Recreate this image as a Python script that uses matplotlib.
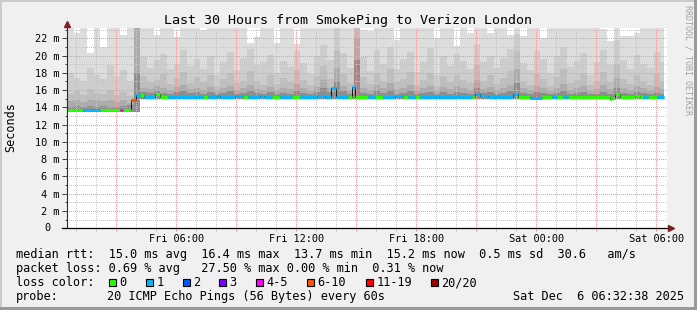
import datetime as dt
import numpy as np
import matplotlib
matplotlib.use('Agg')
import matplotlib.pyplot as plt
import matplotlib.dates as mdates
from matplotlib.patches import Rectangle
from matplotlib.ticker import MultipleLocator, FuncFormatter

W, H = 697, 310

START = dt.datetime(2025, 12, 5, 0, 32, 38)
SPAN_HOURS = 30
DATA_END_H = 29.85

# smoke: 20 minute bins, upper edge of each grey band (ms)
smoke_low = [13.5] * 11 + [15.0] * 79
smoke_top1 = [
    23.4, 22.6, 23.4, 20.3, 23.4, 21.0, 23.4, 23.4, 22.4, 23.4,
    23.4, 23.4, 23.4, 22.4, 23.4, 23.4, 22.2, 23.4, 23.4, 23.4,
    23.0, 23.4, 23.4, 23.4, 23.4, 23.4, 23.4, 21.5, 22.2, 23.4,
    23.4, 21.5, 23.4, 23.4, 21.3, 23.4, 23.4, 23.4, 23.4, 23.4,
    23.4, 23.4, 23.4, 23.4, 23.0, 22.8, 23.4, 23.4, 23.4, 21.8,
    23.4, 23.4, 23.4, 23.4, 23.4, 22.0, 23.4, 23.4, 21.1, 23.4,
    22.6, 23.4, 23.4, 22.6, 23.4, 23.4, 22.4, 23.4, 22.3, 23.4,
    23.4, 22.0, 23.4, 23.4, 23.4, 23.4, 23.4, 23.4, 23.4, 23.4,
    23.1, 21.7, 23.4, 22.3, 22.3, 22.6, 23.4, 23.4, 23.4, 23.4]
smoke_top2 = [
    18.0, 17.4, 17.0, 18.6, 17.8, 17.3, 18.9, 17.6, 18.3, 17.1,
    23.4, 19.8, 18.6, 19.5, 20.2, 18.4, 19.0, 20.6, 18.8, 19.6,
    18.5, 19.9, 17.8, 19.2, 20.4, 18.3, 19.7, 20.8, 18.9, 19.3,
    20.1, 18.0, 19.4, 18.7, 20.5, 19.1, 17.9, 20.0, 21.2, 19.5,
    23.4, 20.3, 18.6, 23.4, 19.8, 18.2, 20.7, 19.0, 21.0, 18.5,
    19.6, 20.4, 18.1, 19.3, 20.9, 17.7, 19.9, 18.8, 20.2, 19.4,
    18.4, 21.3, 19.2, 20.0, 18.6, 19.7, 20.8, 22.5, 19.1, 18.3,
    20.5, 19.6, 18.0, 19.9, 21.0, 18.7, 19.4, 20.3, 17.8, 19.2,
    20.6, 18.9, 21.8, 19.5, 18.4, 20.1, 19.0, 18.6, 20.4, 19.3]
smoke_top3 = [
    15.6, 15.9, 15.4, 16.1, 15.7, 15.5, 16.0, 15.4, 15.8, 15.3,
    23.4, 17.6, 16.9, 17.2, 17.9, 16.7, 17.4, 18.1, 16.8, 17.5,
    16.9, 17.7, 16.5, 17.3, 18.0, 16.8, 17.1, 18.2, 17.0, 16.6,
    17.8, 16.7, 17.4, 16.9, 18.3, 17.2, 16.6, 17.6, 18.8, 17.3,
    20.6, 17.9, 16.8, 23.4, 17.5, 16.7, 18.0, 17.1, 18.4, 16.9,
    17.3, 18.1, 16.6, 17.2, 18.0, 16.5, 17.6, 16.9, 17.8, 17.2,
    16.8, 18.9, 17.0, 17.7, 16.7, 17.4, 18.2, 20.5, 17.1, 16.6,
    17.9, 17.3, 16.5, 17.5, 18.4, 16.8, 17.2, 17.9, 16.6, 17.0,
    18.1, 16.9, 19.0, 17.3, 16.7, 17.8, 17.0, 16.6, 17.9, 17.1]
smoke_top4 = [
    14.7, 14.9, 14.6, 15.0, 14.8, 14.7, 14.9, 14.6, 14.8, 14.5,
    23.4, 16.3, 16.1, 16.5, 16.2, 16.0, 16.4, 16.6, 16.1, 16.3,
    16.0, 16.4, 15.9, 16.2, 16.5, 16.0, 16.3, 16.6, 16.1, 16.0,
    16.4, 16.0, 16.3, 16.1, 16.7, 16.2, 15.9, 16.4, 17.2, 16.3,
    18.6, 16.5, 16.0, 22.0, 16.3, 16.0, 16.6, 16.2, 16.8, 16.1,
    16.3, 16.6, 15.9, 16.2, 16.5, 15.9, 16.4, 16.1, 16.5, 16.2,
    16.0, 17.2, 16.1, 16.4, 16.0, 16.3, 16.6, 18.4, 16.2, 16.0,
    16.5, 16.2, 15.9, 16.3, 16.7, 16.0, 16.2, 16.5, 15.9, 16.1,
    16.6, 16.1, 17.4, 16.3, 16.0, 16.5, 16.2, 15.9, 16.4, 16.1]
smoke_top5 = [
    14.1, 14.2, 14.0, 14.2, 14.1, 14.2, 14.0, 14.1, 14.2, 14.3,
    18.0, 15.8, 15.7, 15.9, 15.7, 15.6, 15.8, 15.9, 15.7, 15.8,
    15.6, 15.8, 15.6, 15.7, 15.9, 15.6, 15.7, 15.9, 15.7, 15.6,
    15.8, 15.6, 15.7, 15.6, 15.9, 15.7, 15.6, 15.8, 16.3, 15.8,
    17.0, 15.9, 15.6, 19.5, 15.7, 15.6, 15.9, 15.7, 16.0, 15.6,
    15.7, 15.9, 15.6, 15.7, 15.8, 15.5, 15.8, 15.6, 15.8, 15.7,
    15.6, 16.2, 15.7, 15.8, 15.6, 15.7, 15.9, 16.8, 15.7, 15.6,
    15.8, 15.7, 15.5, 15.7, 15.9, 15.6, 15.7, 15.8, 15.5, 15.6,
    15.8, 15.6, 16.3, 15.7, 15.6, 15.8, 15.7, 15.5, 15.7, 15.6]
smoke_greys = ['#dddddd', '#cdcdcd', '#bebebe', '#acacac', '#8e8e8e']

# median rtt: start of each step (hours since start), value (ms), loss class
med_start_h = [
    0.00, 0.80, 1.65, 2.65, 2.80, 3.20, 3.45, 3.65, 3.85, 4.40,
    4.65, 5.05, 6.80, 7.05, 7.50, 7.65, 8.40, 8.80, 9.05, 9.65,
    9.85, 10.25, 10.65, 11.25, 11.65, 12.50, 12.90, 13.20, 13.45, 14.05,
    14.25, 14.40, 15.05, 15.40, 15.80, 16.40, 16.80, 17.05, 17.40, 17.65,
    20.25, 20.40, 20.65, 21.05, 21.40, 22.30, 22.55, 23.15, 23.75, 24.25,
    24.50, 24.80, 25.05, 27.15, 27.25, 27.40, 27.65, 28.40, 28.65, 28.80,
    29.05, 29.50]
med_ms = [
    13.7, 13.7, 13.7, 13.7, 13.7, 14.9, 15.4, 15.4, 15.15, 15.6,
    15.15, 15.15, 15.15, 15.15, 15.3, 15.15, 15.3, 15.15, 15.15, 15.3,
    15.15, 15.15, 15.15, 15.15, 15.15, 15.35, 15.2, 16.2, 15.15, 15.15,
    16.4, 15.15, 15.15, 15.15, 15.15, 15.3, 15.15, 15.15, 15.15, 15.2,
    15.2, 15.6, 15.3, 15.15, 15.2, 15.5, 15.15, 15.1, 15.2, 15.2,
    15.2, 15.2, 15.2, 15.0, 15.1, 15.5, 15.25, 15.35, 15.25, 15.25,
    15.25, 15.2]
med_loss = [
    0, 1, 0, 4, 0, 5, 1, 0, 1, 0,
    0, 1, 0, 1, 1, 1, 1, 0, 1, 1,
    1, 0, 1, 0, 1, 1, 1, 1, 1, 0,
    1, 0, 1, 0, 1, 1, 0, 1, 0, 1,
    0, 1, 1, 1, 1, 1, 0, 1, 0, 1,
    0, 1, 0, 0, 0, 0, 0, 0, 0, 1,
    0, 1]

loss_labels = ['0', '1', '2', '3', '4-5', '6-10', '11-19', '20/20']
loss_colors = ['#26ff00', '#00b8ff', '#0059ff', '#7e00ff',
               '#ff00ff', '#ff5500', '#ff0000', '#a10000']

title = 'Last 30 Hours from SmokePing to Verizon London'
legend_rtt = ('median rtt:  15.0 ms avg  16.4 ms max  13.7 ms min  '
              '15.2 ms now  0.5 ms sd  30.6   am/s')
legend_loss = 'packet loss: 0.69 % avg   27.50 % max 0.00 % min  0.31 % now'
probe_text = '20 ICMP Echo Pings (56 Bytes) every 60s'
stamp_text = 'Sat Dec  6 06:32:38 2025'


def fx(x):
    return x / W


def fy(y):
    return 1 - y / H


def tnum(hours):
    return mdates.date2num(START) + np.asarray(hours, dtype=float) / 24.0


def time_label(v, pos):
    d = mdates.num2date(round(v * 1440) / 1440)
    return d.strftime('%a %H:%M') if d.hour % 6 == 0 else ''


def draw_graph(ax):
    edges = tnum(np.append(np.arange(len(smoke_top1)) / 3.0, DATA_END_H))
    tops = [smoke_top1, smoke_top2, smoke_top3, smoke_top4, smoke_top5]
    for top, c in zip(tops, smoke_greys):
        ax.stairs(top, edges, baseline=smoke_low, fill=True, color=c,
                  lw=0, zorder=1)

    med_edges = tnum(med_start_h + [DATA_END_H])
    ax.stairs(med_ms, med_edges, baseline=None, color='black', lw=0.6, zorder=4)
    ax.hlines(med_ms, med_edges[:-1], med_edges[1:],
              colors=[loss_colors[k] for k in med_loss],
              lw=2.1, zorder=5, capstyle='butt')


def style_axes(ax):
    ax.set_facecolor('white')
    ax.set_xlim(tnum(0), tnum(SPAN_HOURS))
    ax.set_ylim(0, 23.19)

    ax.yaxis.set_major_locator(MultipleLocator(2))
    ax.yaxis.set_minor_locator(MultipleLocator(1))
    ax.yaxis.set_major_formatter(
        FuncFormatter(lambda v, p: '' if v == 0 else f'{v:.0f} m'))
    ax.text(-(67 - 50.5) / 600, 0, '0', transform=ax.get_yaxis_transform(),
            ha='right', va='center', fontsize=7.4)

    ax.xaxis.set_major_locator(mdates.HourLocator(byhour=range(0, 24, 3)))
    ax.xaxis.set_minor_locator(mdates.HourLocator())
    ax.xaxis.set_major_formatter(FuncFormatter(time_label))

    # dotted grid, light like rrdtool's translucent grid colours
    dots = (0, (1, 2))
    ax.grid(which='major', color='#ee9a9a', lw=0.72, ls=dots, antialiased=False)
    ax.grid(which='minor', color='#c4c4c4', lw=0.72, ls=dots, antialiased=False)
    ax.set_axisbelow(False)

    ax.tick_params(axis='y', which='major', length=3.6, width=0.72,
                   color='#444444', pad=1.8, labelsize=7.4)
    ax.tick_params(axis='y', which='minor', length=1.8, width=0.72,
                   color='#444444')
    ax.tick_params(axis='x', which='major', length=2.2, width=0.72,
                   color='#ee9a9a', pad=1.6, labelsize=7.4)
    ax.tick_params(axis='x', which='minor', length=2.2, width=0.72,
                   color='#c4c4c4')
    for s in ax.spines.values():
        s.set_visible(False)

    # axis lines with rrdtool style arrows
    ax.plot([0, 0], [0, 1.015], transform=ax.transAxes, clip_on=False,
            color='#2c2c2c', lw=0.8, zorder=6)
    ax.plot([-0.008, 1.003], [0, 0], transform=ax.transAxes, clip_on=False,
            color='black', lw=0.9, zorder=6)
    ax.plot([0], [1.02], marker='^', ms=4, color='#7f1f1f',
            transform=ax.transAxes, clip_on=False, zorder=7)
    ax.plot([1.007], [0], marker='>', ms=4, color='#7f1f1f',
            transform=ax.transAxes, clip_on=False, zorder=7)


def draw_texts(fig):
    fig.text(fx(347.5), fy(24), title, ha='center', va='baseline', fontsize=9.6)
    fig.text(fx(10.5), fy(127.5), 'Seconds', rotation=90,
             ha='center', va='center', fontsize=8.5)
    fig.text(fx(688), fy(60), 'RRDTOOL / TOBI OETIKER', rotation=270,
             ha='center', va='center', fontsize=6, color='#a0a0a0')

    fig.text(fx(16), fy(258), legend_rtt, va='baseline', fontsize=8.55)
    fig.text(fx(16), fy(272), legend_loss, va='baseline', fontsize=8.55)
    fig.text(fx(16), fy(286), 'loss color:', va='baseline', fontsize=8.55)
    box_x = [109, 146, 183, 219, 256, 307, 366, 431]
    for bx, lab, c in zip(box_x, loss_labels, loss_colors):
        fig.add_artist(Rectangle((fx(bx), fy(286)), 7 / W, 7.3 / H,
                                 transform=fig.transFigure, facecolor=c,
                                 edgecolor='black', lw=0.8))
        fig.text(fx(bx + 10.6), fy(286), lab, va='baseline', fontsize=8.55)
    fig.text(fx(16), fy(300), 'probe:', va='baseline', fontsize=8.55)
    fig.text(fx(107), fy(300), probe_text, va='baseline', fontsize=8.55)
    fig.text(fx(513.3), fy(300), stamp_text, va='baseline', fontsize=8.55)


def draw_frame(fig):
    light, dark = '#cbcbcb', '#999999'
    fig.add_artist(Rectangle((0, 1 - 2 / H), 1, 2 / H, transform=fig.transFigure,
                             facecolor=light, lw=0))
    fig.add_artist(Rectangle((0, 0), 2 / W, 1, transform=fig.transFigure,
                             facecolor=light, lw=0))
    fig.add_artist(Rectangle((0, 0), 1, 3 / H, transform=fig.transFigure,
                             facecolor=dark, lw=0))
    fig.add_artist(Rectangle((1 - 3 / W, 0), 3 / W, 1, transform=fig.transFigure,
                             facecolor=dark, lw=0))


def main():
    plt.rcParams['font.family'] = ['DejaVu Sans Mono']
    fig = plt.figure(figsize=(W / 100, H / 100), dpi=100, facecolor='#f0f0f0')
    ax = fig.add_axes([fx(67), fy(228.3), 600 / W, (228.3 - 28) / H])
    draw_graph(ax)
    style_axes(ax)
    draw_texts(fig)
    draw_frame(fig)
    fig.savefig('out.png', dpi=100, facecolor=fig.get_facecolor())


if __name__ == '__main__':
    main()
